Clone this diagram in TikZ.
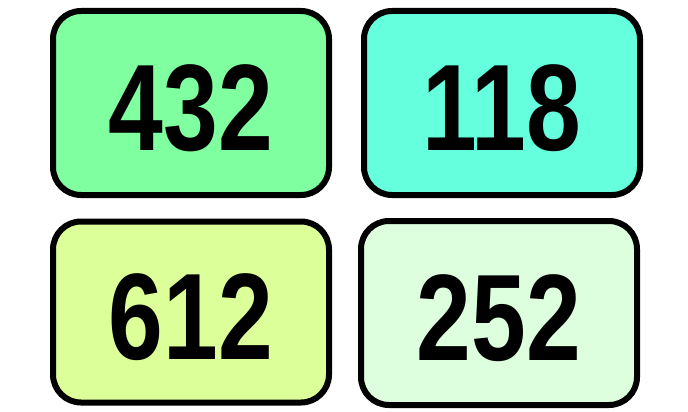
\documentclass[tikz,border=0pt]{standalone}
\usepackage{fontspec}
\newfontfamily\digitfont[FakeStretch=0.8]{Liberation Sans}
\tikzset{>=stealth}
\definecolor{cardA}{HTML}{80FFA0}
\definecolor{cardB}{HTML}{66FFDD}
\definecolor{cardC}{HTML}{DDFF99}
\definecolor{cardD}{HTML}{DDFFDD}
\tikzset{card/.style={draw=black, line width=6pt, rounded corners=28pt,
    minimum width=276pt, minimum height=184pt, inner sep=0pt,
    text height=94pt, text depth=0pt,
    font=\digitfont\bfseries\fontsize{123}{123}\selectfont}}

\begin{document}
\begin{tikzpicture}[x=1pt,y=-1pt]
        \useasboundingbox (0,0) rectangle (688,412);
        \node (TL) at (191,103) [card, fill=cardA] {432};
        \node (TR) at (502,103) [card, fill=cardB] {118};
        \node (BL) at (191,312) [card, fill=cardC, minimum height=181pt] {612};
        \node (BR) at (499,313) [card, fill=cardD] {252};
    \end{tikzpicture}
\end{document}
